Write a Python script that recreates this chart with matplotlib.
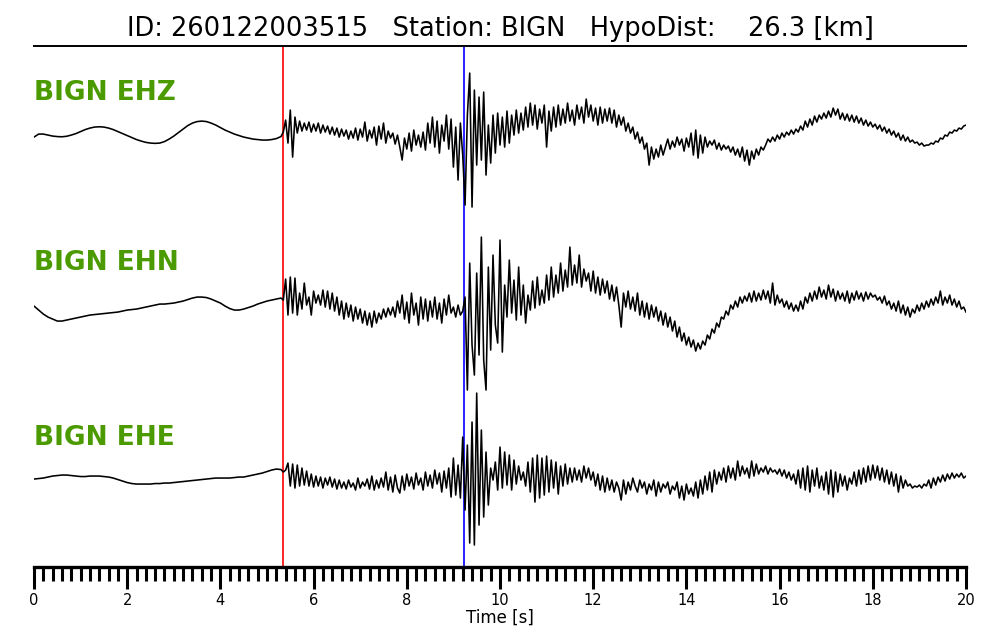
import numpy as np
import matplotlib
matplotlib.use("Agg")
import matplotlib.pyplot as plt
from matplotlib.ticker import MultipleLocator

# ---------------- data ----------------
TITLE = "ID: 260122003515   Station: BIGN   HypoDist:    26.3 [km]"
CHANNELS = ["BIGN EHZ", "BIGN EHN", "BIGN EHE"]
P_PICK = 5.34
S_PICK = 9.23
DT_PRE = 0.1
DT_POST = 0.05
T_POST0 = 5.35

EHZ_PRE = [-2, 1, 1, 0, -1, -1.5, -1.7, -1.2, 0, 1.5,
           3.5, 5.5, 7, 8, 8.3, 8, 7, 5.5, 3.5, 1.5,
           -0.5, -2.5, -4.5, -6, -7.3, -8, -8.3, -8, -6.5, -4,
           -1, 2.5, 6, 9.5, 12, 13.5, 14, 13.5, 12, 10,
           7.5, 5, 3, 1, -0.5, -2, -3, -4, -4.5, -5,
           -5, -4.5, -3.5, -1.5]
EHZ_POST = [3, 15, -8, 25, -22, 18, 2, 14, 4, 12, 5, 13, 3, 11, 4, 12, 2, 10, 3, 9,
            1, 8, 0, 7, -2, 6, -1, 5, -4, 4, -3, 7, -5, 6, -2, 13, -6, 5, -3, 8,
            -10, 9, -4, 12, -8, 4, -3, 2, -9, 0, -12, -25, -3, -14, 2, -16, 5, -10, 0, -12,
            3, -15, 12, -8, 18, -12, 14, -18, 10, -6, 20, -14, 16, -32, 8, -45, 12, -20, -70, 20,
            62, -72, 45, -30, 38, -25, 43, -40, 10, -28, 20, -18, 22, -10, 18, -12, 24, -8, 20, 0,
            25, 2, 22, 5, 28, 8, 32, 10, 30, 6, 26, 12, 30, -12, 24, 4, 28, 8, 30, 10,
            26, 12, 32, 14, 25, 10, 30, 16, 28, 12, 36, 18, 30, 14, 27, 10, 28, 12, 26, 14,
            27, 12, 25, 8, 20, 10, 18, 4, 12, 2, 8, -4, 3, -8, -2, -14, -8, -30, -12, -24,
            -14, -22, -10, -20, -12, -4, -14, -6, -12, -2, -10, -4, -16, -3, -12, 2, -20, 5, -23, 0,
            -18, -2, -12, -6, -10, -5, -14, -8, -15, -10, -14, -11, -17, -12, -20, -14, -22, -12, -26, -15,
            -30, -16, -24, -14, -20, -12, -15, -10, -4, -7, -2, -6, 0, -4, 2, -2, 3, 0, 5, 1,
            6, 3, 9, 5, 14, 8, 16, 10, 19, 13, 20, 16, 22, 17, 24, 18, 27, 20, 26, 16,
            22, 15, 21, 14, 20, 13, 19, 12, 17, 10, 15, 9, 13, 8, 11, 6, 10, 4, 8, 2,
            6, 0, 4, -2, 2, -5, 0, -6, -2, -7, -5, -8, -7, -10, -8, -11, -10, -10, -8, -9,
            -6, -7, -3, -4, 0, -1, 3, 2, 5, 4, 7, 6, 9, 10]

EHN_PRE = [-1, -5, -9, -12, -14, -16, -16, -15, -14, -13,
           -12, -11, -10, -9.5, -9, -8.5, -8, -7.5, -7, -6,
           -5, -4.5, -4, -3, -2, -1, 0, 1, 1, 1.5,
           2, 3, 4, 5.5, 7, 8, 8, 7.5, 6, 4,
           2, -1, -3.5, -5, -5, -4, -2.5, -1, 1, 2.5,
           4, 5, 6, 7]
EHN_POST = [5, 26, -10, 28, -8, 27, -10, 12, -4, 22, 0, 8, -10, 14, 2, 10, 0, 15, -2, 14,
            -4, 12, -6, 8, -10, 4, -14, 2, -12, 0, -16, -2, -14, -4, -18, -6, -20, -8, -22, -6,
            -18, -8, -14, -4, -12, -3, -10, -2, -12, 4, -8, 10, -14, 3, -18, 12, -10, 2, -20, 8,
            -14, 6, -16, 4, -12, 8, -14, 2, -18, 6, -10, 10, -8, -2, -12, 0, -10, -6, 8, -85,
            42, -40, -70, 32, -50, 68, -55, -85, 38, -45, 50, -20, -38, 65, -47, 20, -12, 45, -8, 25,
            -15, 38, -10, 20, -18, 10, -5, 24, -3, 28, 0, 15, 2, 30, 5, 38, 8, 30, 12, 42,
            14, 35, 18, 58, 20, 40, 22, 50, 18, 36, 24, 32, 14, 34, 12, 28, 10, 26, 12, 24,
            6, 20, 4, 18, 0, -22, 12, -2, 14, -4, 8, -6, 12, -10, 4, -12, 2, -14, 0, -12,
            -2, -16, -6, -20, -8, -22, -12, -26, -16, -32, -22, -36, -28, -40, -32, -42, -35, -46, -38, -44,
            -36, -40, -30, -34, -24, -28, -18, -22, -12, -14, -6, -10, 0, -4, 4, -2, 8, 2, 9, 4,
            12, 3, 14, 4, 12, 5, 15, 6, 14, 2, 22, 0, 10, 2, 6, -2, 4, -4, 2, -6,
            0, -6, 4, -4, 8, 2, 12, 4, 14, 6, 18, 8, 15, 6, 20, 8, 16, 4, 14, 6,
            12, 4, 14, 2, 12, 5, 14, 6, 12, 4, 13, 6, 12, 8, 10, 5, 8, 2, 9, 0,
            4, -4, 2, -6, 4, -8, 0, -10, -2, -12, -4, -8, 0, -6, 2, -4, 4, -2, 6, 0,
            8, 2, 14, 0, 8, 2, 10, 0, 6, -2, 4, -4, -2, -7]

EHE_PRE = [1, 1.5, 2, 3, 4, 4.5, 5, 5, 4.5, 4,
           3.5, 3.5, 4, 4, 4, 3.5, 3, 2, 0.5, -1,
           -2.5, -3.5, -4, -4, -4, -4, -3.5, -3.5, -3, -3,
           -2.5, -2, -1.5, -1, -0.5, 0, 0.5, 1, 1.5, 2,
           2, 2, 2, 2.5, 3, 3, 4, 5, 6, 7,
           8.5, 10, 11, 10.5]
EHE_POST = [8, 10, 17, -6, 16, -8, 15, -6, 12, -5, 9, -6, 6, -7, 4, -6, 3, -8, 2, -5,
            3, -7, 1, -9, 0, -8, -2, -9, 0, -7, -3, -10, 2, -8, -2, -6, 1, -9, 4, -10,
            0, -8, 2, -7, 8, -10, 3, -12, 5, -8, -13, 4, -10, 6, -6, 3, -9, 7, -5, 2,
            -10, 8, -6, 5, -8, 10, -4, 7, -12, 9, -8, 12, -17, 22, -15, 15, -18, 43, -30, 35,
            -63, 58, -65, 87, -45, 50, -37, 28, -25, 12, 0, 18, -10, 33, -8, 28, -5, 25, -10, 20,
            -4, 14, 0, 8, -6, 18, -12, 22, -22, 25, -18, 22, -15, 24, -12, 20, -8, 18, -14, 14,
            -6, 16, -4, 12, -2, 12, 0, 10, -2, 14, 2, 12, 0, 8, -6, 6, -10, 4, -12, 2,
            -10, 0, -12, -2, -8, -20, 0, -14, -2, -10, 2, -6, -12, 0, -8, -2, -14, -4, -10, 0,
            -16, -2, -12, -4, -8, -2, -14, -6, -10, -2, -18, -6, -20, -4, -14, -8, -16, -2, -18, 0,
            -14, 4, -10, 8, -12, 10, -4, 8, 0, 12, -2, 14, 2, 12, 0, 19, 4, 14, 6, 12,
            2, 19, 4, 16, 6, 12, 8, 14, 6, 12, 8, 10, 6, 11, 4, 10, 2, 8, 0, 6,
            -4, 10, -8, 12, -10, 14, -12, 10, -6, 12, -8, 4, -10, 8, -14, 10, -17, 8, -12, 6,
            -6, 4, -10, 2, -4, 8, -6, 10, -4, 12, -2, 14, 0, 15, 2, 14, 0, 12, -2, 10,
            -4, 8, -6, 6, -12, 4, -8, 0, -6, -4, -8, -6, -7, -5, -8, -4, -6, 0, -8, 2,
            -5, 3, -2, 5, -1, 6, 1, 7, 2, 6, 3, 7, 2, 4]

TRACES = [(EHZ_PRE, EHZ_POST), (EHN_PRE, EHN_POST), (EHE_PRE, EHE_POST)]

# ---------------- layout / style ----------------
BASELINES = [432, 262, 87]      # vertical position of each trace (pixel-like units)
LABEL_RAISE = 42
GREEN = "#4b9a00"

fig = plt.figure(figsize=(10, 6.4), dpi=100)
ax = fig.add_axes([0.034, 0.114, 0.932, 0.814])

for (pre, post), base, name in zip(TRACES, BASELINES, CHANNELS):
    t_pre = DT_PRE * np.arange(len(pre))
    t_post = T_POST0 + DT_POST * np.arange(len(post))
    t = np.concatenate([t_pre, t_post])
    y = base + np.concatenate([np.asarray(pre, float), np.asarray(post, float)])
    ax.plot(t, y, color="black", lw=1.15, zorder=3)
    ax.text(0.0, base + LABEL_RAISE, name, color=GREEN, fontsize=19,
            fontweight="bold", ha="left", va="center", family="DejaVu Sans")

ax.axvline(P_PICK, color="red", lw=1.2, zorder=2)
ax.axvline(S_PICK, color="blue", lw=1.2, zorder=2)

ax.set_xlim(0, 20)
ax.set_ylim(0, 521)
ax.spines["left"].set_visible(False)
ax.spines["right"].set_visible(False)
ax.spines["top"].set_linewidth(1.4)
ax.spines["bottom"].set_linewidth(2.4)
ax.set_yticks([])
ax.xaxis.set_major_locator(MultipleLocator(2))
ax.xaxis.set_minor_locator(MultipleLocator(0.2))
ax.tick_params(axis="x", which="major", length=16, width=2.2, direction="out",
               labelsize=10.5, pad=3)
ax.tick_params(axis="x", which="minor", length=10, width=2.2, direction="out")
ax.set_xlabel("Time [s]", fontsize=12, labelpad=0)
ax.set_title(TITLE, fontsize=18.5, pad=7)

fig.savefig("out.png", dpi=100)
